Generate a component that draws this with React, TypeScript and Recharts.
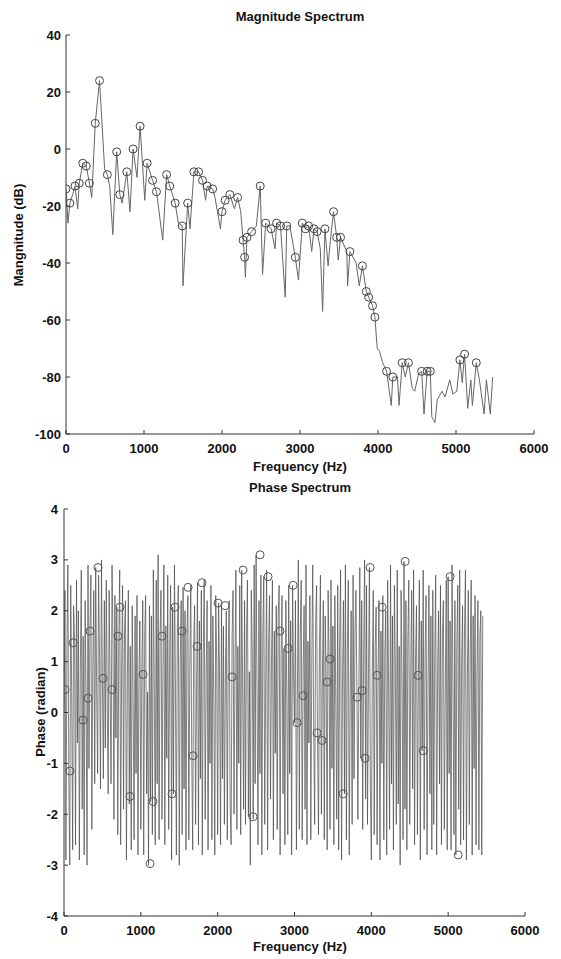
import React from 'react';
import { ComposedChart, Line, Scatter, XAxis, YAxis } from 'recharts';

const FONT = '"Liberation Sans", Arial, Helvetica, sans-serif';

// ---------- Magnitude spectrum ----------
const magFreq = [0, 25, 50, 85, 115, 150, 170, 215, 260, 300, 330, 375, 430, 495, 530, 560, 600, 650, 690, 720, 780, 820, 860, 910, 950, 1010, 1040, 1110, 1160, 1240, 1290, 1330, 1400, 1440, 1490, 1500, 1560, 1590, 1640, 1700, 1750, 1790, 1810, 1880, 1910, 1980, 2000, 2040, 2100, 2160, 2200, 2240, 2270, 2290, 2300, 2320, 2380, 2440, 2490, 2520, 2560, 2630, 2680, 2700, 2750, 2810, 2830, 2870, 2940, 2980, 3030, 3070, 3110, 3150, 3180, 3220, 3260, 3290, 3320, 3360, 3390, 3430, 3470, 3490, 3520, 3600, 3610, 3640, 3720, 3760, 3800, 3850, 3880, 3930, 3960, 3990, 4020, 4060, 4110, 4170, 4190, 4250, 4270, 4310, 4350, 4390, 4440, 4470, 4520, 4560, 4590, 4630, 4670, 4690, 4730, 4760, 4820, 4860, 4920, 4960, 5010, 5050, 5080, 5110, 5150, 5190, 5210, 5260, 5300, 5360, 5390, 5440, 5470];
const magDb = [-14, -26, -19, -16, -13, -21, -12, -5, -6, -12, -17, 9, 24, -7, -9, -13, -30, -1, -16, -19, -8, -22, 0, -10, 8, -18, -5, -11, -15, -32, -9, -13, -19, -26, -27, -48, -19, -28, -8, -8, -11, -18, -13, -14, -17, -28, -22, -18, -16, -21, -17, -22, -32, -38, -45, -31, -29, -27, -13, -44, -26, -28, -35, -26, -27, -52, -27, -27, -38, -46, -26, -28, -27, -36, -28, -29, -35, -57, -28, -41, -32, -22, -31, -39, -31, -36, -48, -36, -40, -48, -41, -50, -52, -55, -59, -70, -71, -75, -78, -90, -80, -80, -90, -75, -80, -75, -84, -85, -79, -78, -93, -78, -78, -94, -96, -88, -85, -87, -81, -86, -85, -74, -82, -72, -91, -81, -90, -75, -81, -93, -81, -93, -80];
const magPeakFreq = [0, 50, 115, 170, 215, 260, 300, 375, 430, 530, 650, 690, 780, 860, 950, 1040, 1110, 1160, 1290, 1330, 1400, 1490, 1560, 1640, 1700, 1750, 1810, 1880, 2000, 2040, 2100, 2200, 2270, 2290, 2320, 2380, 2490, 2560, 2630, 2700, 2750, 2830, 2940, 3030, 3070, 3110, 3180, 3220, 3320, 3430, 3470, 3520, 3640, 3800, 3850, 3880, 3930, 3960, 4110, 4190, 4310, 4390, 4560, 4630, 4670, 5050, 5110, 5260];
const magTicks = [-100, -80, -60, -40, -20, 0, 20, 40];

// ---------- Phase spectrum ----------
const phaseBinHz = 12.5;
const phaseVals = [
  0.0, 2.4, -2.9, 1.2, 2.9, -1.3, -3.0, 2.5, 0.4, -2.7, 2.1, 1.4, -2.6, 2.6, -0.6, 2.0,
  -2.9, 0.8, 2.8, -1.9, 1.5, -2.8, 2.2, 0.3, -3.0, 2.9, -1.1, 1.6, 2.7, -2.3, 0.9, 2.4,
  -1.4, 2.85, 0.5, -1.2, 2.7, 1.1, -1.5, 3.0, 0.6, -1.3, 2.2, -0.7, 2.6, 0.2, -1.6, 2.4,
  0.45, -1.4, 2.9, 1.5, -2.1, 2.3, -0.5, 2.07, -2.4, 1.2, 2.8, -2.6, 0.9, 2.5, -1.9, 1.6,
  2.2, -2.9, 0.7, 2.4, -1.8, 1.3, -2.7, 2.1, 0.2, -2.5, 1.9, -1.2, 2.3, -2.8, 0.6, 1.8,
  -2.3, 0.75, 2.2, -2.8, 1.5, 2.3, -1.6, 0.4, -3.0, 2.1, -1.75, 1.9, -2.4, 2.8, 0.5, -2.6,
  2.6, -1.4, 3.1, -2.5, 1.5, 2.4, -2.1, 0.8, 2.9, -2.6, 1.7, -0.9, 2.7, -2.3, 1.1, 2.5,
  -2.9, 2.07, -1.6, 2.9, 0.6, -2.8, 1.6, 2.5, -3.0, 1.0, 2.2, -2.4, 2.46, -1.5, 2.0, -2.7,
  1.5, 2.3, -2.5, 0.9, 2.5, -0.85, -2.7, 1.3, 2.1, -2.2, 0.4, 2.55, -2.6, 1.8, -1.3, 2.4,
  -2.8, 1.2, 2.6, -2.1, 0.7, 2.2, -2.7, 1.4, -1.0, 2.5, -2.5, 1.9, 0.3, -2.8, 2.3, 1.0,
  -2.4, 2.15, 0.6, -2.6, 2.1, -1.3, 1.7, -2.2, 0.7, 2.0, -2.5, 1.1, 2.2, -1.8, -2.6, 1.5,
  2.4, -2.0, 0.9, 2.8, -2.3, 1.3, -1.0, 2.5, -2.4, 2.8, 0.5, -1.9, 2.2, -2.2, 1.6, 2.6,
  -2.05, 0.8, -3.0, 2.4, 1.2, -2.1, 2.9, -1.4, 3.1, 0.4, -2.6, 2.2, -1.2, 2.7, -2.8, 1.5,
  2.67, -2.2, 0.6, 2.8, -2.7, 1.3, 2.3, -1.7, 0.9, 2.6, -2.5, 1.6, -0.8, 2.1, -2.3, 1.9,
  2.5, -2.8, 1.1, 2.3, -1.6, 1.26, -2.6, 2.2, 0.3, -2.4, 2.5, -1.2, 1.8, -2.8, 2.5, 0.7,
  -0.2, 2.2, -2.7, 0.33, 3.0, -2.3, 1.5, 2.6, -2.5, 0.8, 2.1, -1.9, 2.9, -2.6, 1.4, -0.6,
  2.3, -2.5, 1.0, 2.9, -0.4, -2.2, 1.8, 2.5, -0.55, -2.4, 1.3, 2.7, -2.0, 0.6, 2.2, -2.5,
  1.9, 0.6, -2.7, 2.4, 1.05, -2.3, 2.6, -1.1, 1.7, -2.6, 2.3, 0.2, -2.1, 2.5, -2.7, 1.4,
  2.8, -2.9, 0.7, 2.2, -1.6, 2.9, -2.5, 1.2, 2.6, -2.8, 0.4, 2.0, -2.2, 2.7, -1.3, 1.6,
  2.4, 0.3, -2.1, 0.43, 2.85, -0.9, 2.2, -2.3, 1.1, 3.0, -1.7, 2.5, -2.2, 0.6, 2.85, -1.5,
  -2.9, 0.73, 2.4, -2.4, 1.3, 2.07, -2.6, 0.8, 2.2, -2.9, 1.6, -1.0, 2.3, -2.5, 1.1, 2.0,
  -2.8, 2.6, 0.5, -2.3, 2.9, -1.4, 1.9, -2.7, 2.5, 0.9, -2.2, 2.8, -1.8, 1.3, -3.0, 2.4,
  0.6, -2.5, 2.97, -1.9, 2.2, -2.7, 1.4, 2.6, -2.2, 0.7, 2.4, -1.5, 2.8, -2.6, 1.0, 2.1,
  -2.4, 0.73, 2.6, -2.9, 1.8, -0.75, 2.8, -2.3, 1.2, 2.3, -2.8, 0.5, 2.5, -1.6, 1.9, -2.7,
  2.4, -2.2, 1.1, 2.7, -2.8, 0.7, 2.0, -1.4, 2.5, -2.6, 1.5, 2.2, -2.3, 0.4, 2.6, -2.7,
  2.67, -1.2, 1.8, -2.7, 2.9, 0.6, -2.4, 2.2, -2.8, 1.3, 2.5, -1.9, 2.8, -2.6, 0.9, 2.1,
  -2.5, 1.6, 2.8, -2.9, 0.7, 2.4, -2.2, 1.2, 2.6, -2.8, 1.9, -1.1, 2.3, -2.6, 0.8, 2.2,
  -2.7, 1.5, 2.0, -2.8, 1.9,
];
const phasePeakFreq = [13, 117, 339, 313, 443, 508, 625, 729, 703, 1029, 1276, 1445, 1536, 1615, 1732, 1797, 2005, 2096, 2188, 2331, 2552, 2656, 2812, 2917, 2982, 3112, 3424, 3464, 3815, 3880, 3984, 4075, 4141, 4440, 4609, 5026, 247, 78, 1680, 859, 1159, 1406, 1120, 3034, 2461, 3294, 3359, 3919, 3633, 4674, 5130];
const phasePeakVal = [0.45, 1.37, 1.6, 0.28, 2.85, 0.67, 0.45, 2.07, 1.5, 0.75, 1.5, 2.07, 1.6, 2.46, 1.3, 2.55, 2.15, 2.1, 0.7, 2.8, 3.1, 2.67, 1.6, 1.26, 2.5, 0.33, 0.6, 1.05, 0.3, 0.43, 2.85, 0.73, 2.07, 2.97, 0.73, 2.67, -0.15, -1.15, -0.85, -1.65, -1.75, -1.6, -2.97, -0.2, -2.05, -0.4, -0.55, -0.9, -1.6, -0.75, -2.8];
const phaseTicks = [-4, -3, -2, -1, 0, 1, 2, 3, 4];

const freqTicks = [0, 1000, 2000, 3000, 4000, 5000, 6000];

const magData = magFreq.map((f, i) => ({ f, v: magDb[i] }));
const magPeaks = magPeakFreq.map((f) => ({ f, v: magDb[magFreq.indexOf(f)] }));
const phaseData = phaseVals.map((v, i) => ({ f: i * phaseBinHz, v }));
const phasePeaks = phasePeakFreq.map((f, i) => ({ f, v: phasePeakVal[i] }));

const AX = '#333';
const tickStyle = { fontFamily: FONT, fontSize: 13, fontWeight: 700, fill: '#111' };
const textStyle: React.CSSProperties = {
  position: 'absolute',
  fontFamily: FONT,
  fontSize: 13,
  fontWeight: 700,
  color: '#111',
  whiteSpace: 'nowrap',
  transform: 'translate(-50%, -50%)',
  lineHeight: '15px',
};

const Ring = (props: any) => (
  <circle cx={props.cx} cy={props.cy} r={4} fill="none" stroke="#444" strokeWidth={1} />
);
const RingLight = (props: any) => (
  <circle cx={props.cx} cy={props.cy} r={4} fill="none" stroke="#555" strokeWidth={1} />
);

export default function App() {
  return (
    <div style={{ position: 'absolute', left: 0, top: 0, width: 561, height: 959, background: '#fff' }}>
      <div style={{ ...textStyle, left: 300, top: 16 }}>Magnitude Spectrum</div>
      <div style={{ ...textStyle, left: 300, top: 466 }}>Frequency (Hz)</div>
      <div style={{ ...textStyle, left: 18, top: 235, transform: 'translate(-50%, -50%) rotate(-90deg)' }}>Mangnitude (dB)</div>

      <div style={{ ...textStyle, left: 300, top: 487 }}>Phase Spectrum</div>
      <div style={{ ...textStyle, left: 300, top: 946 }}>Frequency (Hz)</div>
      <div style={{ ...textStyle, left: 40, top: 712, transform: 'translate(-50%, -50%) rotate(-90deg)' }}>Phase (radian)</div>

      <div style={{ position: 'absolute', left: 0, top: 0 }}>
        <ComposedChart width={561} height={480} margin={{ top: 35, right: 27, bottom: 16, left: 0 }}>
          <XAxis dataKey="f" type="number" domain={[0, 6000]} ticks={freqTicks} allowDataOverflow
            tickSize={-4} tickMargin={14} height={30} tick={tickStyle}
            axisLine={{ stroke: AX }} tickLine={{ stroke: AX }} />
          <XAxis xAxisId="top" orientation="top" dataKey="f" type="number" domain={[0, 6000]} ticks={freqTicks}
            tick={false} tickSize={-4} height={0} axisLine={{ stroke: AX }} tickLine={{ stroke: AX }} />
          <YAxis type="number" domain={[-100, 40]} ticks={magTicks} allowDataOverflow width={66}
            tickSize={-4} tickMargin={9} tick={tickStyle} axisLine={{ stroke: AX }} tickLine={{ stroke: AX }} />
          <YAxis yAxisId="right" orientation="right" type="number" domain={[-100, 40]} ticks={magTicks}
            tick={false} tickSize={-4} width={0} axisLine={{ stroke: AX }} tickLine={{ stroke: AX }} />
          <Line data={magData} dataKey="v" stroke="#666" strokeWidth={1} dot={false} isAnimationActive={false} />
          <Scatter data={magPeaks} dataKey="v" shape={Ring} isAnimationActive={false} />
        </ComposedChart>
      </div>

      <div style={{ position: 'absolute', left: 0, top: 480 }}>
        <ComposedChart width={561} height={479} margin={{ top: 29, right: 36, bottom: 13, left: 0 }}>
          <XAxis dataKey="f" type="number" domain={[0, 6000]} ticks={freqTicks} allowDataOverflow
            tickSize={-4} tickMargin={14} height={30} tick={tickStyle}
            axisLine={{ stroke: AX }} tickLine={{ stroke: AX }} />
          <XAxis xAxisId="top" orientation="top" dataKey="f" type="number" domain={[0, 6000]} ticks={freqTicks}
            tick={false} tickSize={-4} height={0} axisLine={{ stroke: AX }} tickLine={{ stroke: AX }} />
          <YAxis type="number" domain={[-4, 4]} ticks={phaseTicks} allowDataOverflow width={64}
            tickSize={-4} tickMargin={10} tick={tickStyle} axisLine={{ stroke: AX }} tickLine={{ stroke: AX }} />
          <YAxis yAxisId="right" orientation="right" type="number" domain={[-4, 4]} ticks={phaseTicks}
            tick={false} tickSize={-4} width={0} axisLine={{ stroke: AX }} tickLine={{ stroke: AX }} />
          <Line data={phaseData} dataKey="v" stroke="#4a4a4a" strokeWidth={0.7} dot={false} isAnimationActive={false} />
          <Scatter data={phasePeaks} dataKey="v" shape={RingLight} isAnimationActive={false} />
        </ComposedChart>
      </div>
    </div>
  );
}
